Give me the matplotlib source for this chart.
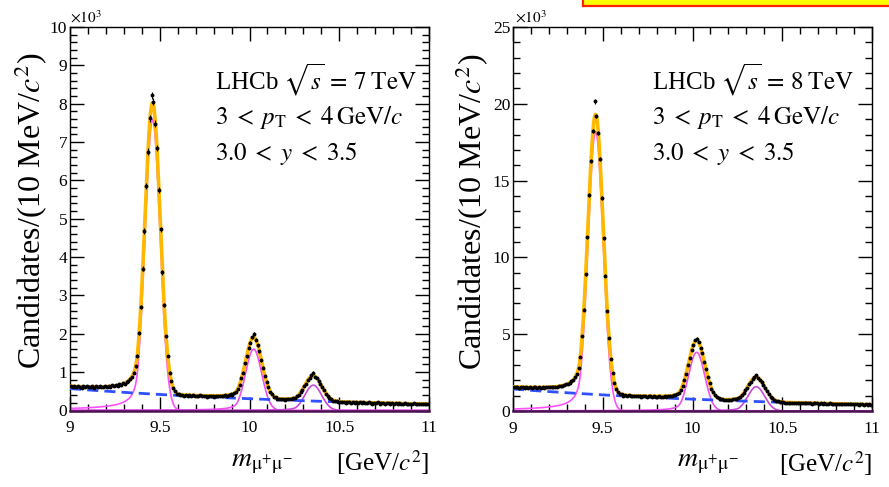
import numpy as np
import matplotlib
matplotlib.use("Agg")
import matplotlib.pyplot as plt
from matplotlib.patches import Rectangle
from matplotlib.ticker import MultipleLocator

plt.rcParams['font.family'] = ['Liberation Serif', 'DejaVu Serif']
plt.rcParams['mathtext.fontset'] = 'stix'

# ---------------- data (units of 10^3 candidates / 10 MeV) ----------------
bin_lo, bin_hi, bin_w = 9.0, 11.0, 0.01
mass_bins = np.arange(bin_lo + bin_w / 2, bin_hi, bin_w)

counts_7tev = [
    0.64, 0.61, 0.63, 0.60, 0.65, 0.62, 0.59, 0.63, 0.61, 0.64,
    0.60, 0.62, 0.64, 0.59, 0.63, 0.61, 0.64, 0.60, 0.62, 0.65,
    0.61, 0.64, 0.62, 0.66, 0.63, 0.67, 0.64, 0.68, 0.66, 0.71,
    0.70, 0.75, 0.77, 0.83, 0.87, 0.99, 1.15, 1.43, 2.02, 2.71,
    3.70, 4.68, 5.85, 6.75, 7.62, 8.22, 8.05, 7.48, 6.85, 5.74,
    4.72, 3.60, 2.74, 1.93, 1.42, 0.99, 0.76, 0.58, 0.51, 0.44,
    0.43, 0.40, 0.41, 0.38, 0.40, 0.39, 0.41, 0.38, 0.40, 0.37,
    0.39, 0.38, 0.40, 0.37, 0.39, 0.38, 0.36, 0.39, 0.37, 0.39,
    0.36, 0.38, 0.37, 0.39, 0.38, 0.37, 0.40, 0.38, 0.40, 0.42,
    0.41, 0.45, 0.47, 0.56, 0.66, 0.84, 0.99, 1.23, 1.41, 1.64,
    1.77, 1.91, 1.99, 1.85, 1.70, 1.55, 1.31, 1.12, 0.90, 0.74,
    0.60, 0.48, 0.42, 0.36, 0.34, 0.31, 0.30, 0.29, 0.31, 0.28,
    0.30, 0.29, 0.31, 0.30, 0.32, 0.33, 0.37, 0.40, 0.48, 0.54,
    0.63, 0.70, 0.80, 0.84, 0.92, 0.99, 0.88, 0.85, 0.77, 0.70,
    0.60, 0.53, 0.44, 0.39, 0.33, 0.30, 0.26, 0.25, 0.24, 0.22,
    0.23, 0.21, 0.22, 0.20, 0.22, 0.21, 0.20, 0.22, 0.19, 0.21,
    0.20, 0.22, 0.19, 0.21, 0.20, 0.19, 0.21, 0.20, 0.18, 0.20,
    0.19, 0.21, 0.18, 0.20, 0.19, 0.18, 0.20, 0.19, 0.17, 0.19,
    0.18, 0.20, 0.17, 0.19, 0.18, 0.17, 0.19, 0.18, 0.16, 0.18,
    0.17, 0.19, 0.16, 0.18, 0.17, 0.16, 0.18, 0.17, 0.16, 0.17,
]

counts_8tev = [
    1.58, 1.53, 1.57, 1.52, 1.56, 1.54, 1.50, 1.55, 1.52, 1.56,
    1.51, 1.54, 1.56, 1.50, 1.55, 1.52, 1.56, 1.51, 1.54, 1.57,
    1.53, 1.57, 1.55, 1.59, 1.56, 1.62, 1.60, 1.66, 1.67, 1.74,
    1.77, 1.83, 1.93, 2.00, 2.19, 2.38, 2.80, 3.50, 4.88, 6.60,
    8.90, 11.30, 14.05, 16.30, 18.25, 20.15, 19.20, 18.10, 16.40, 13.85,
    11.25, 8.80, 6.50, 4.78, 3.38, 2.47, 1.85, 1.43, 1.25, 1.12,
    1.08, 1.00, 1.02, 0.97, 1.01, 0.96, 1.00, 0.98, 0.95, 0.99,
    0.97, 0.94, 0.98, 0.95, 0.93, 0.97, 0.95, 0.92, 0.96, 0.94,
    0.93, 0.96, 0.94, 0.92, 0.96, 0.94, 0.97, 0.98, 0.99, 1.03,
    1.04, 1.11, 1.17, 1.38, 1.63, 2.03, 2.44, 2.97, 3.45, 3.95,
    4.30, 4.60, 4.72, 4.48, 4.12, 3.75, 3.20, 2.72, 2.20, 1.80,
    1.46, 1.22, 1.02, 0.92, 0.82, 0.79, 0.75, 0.72, 0.74, 0.71,
    0.73, 0.71, 0.75, 0.76, 0.78, 0.83, 0.88, 1.02, 1.16, 1.34,
    1.52, 1.73, 1.92, 2.06, 2.20, 2.32, 2.16, 2.05, 1.88, 1.70,
    1.49, 1.27, 1.11, 0.94, 0.83, 0.72, 0.67, 0.63, 0.58, 0.57,
    0.56, 0.54, 0.55, 0.52, 0.54, 0.53, 0.51, 0.54, 0.52, 0.50,
    0.52, 0.50, 0.51, 0.49, 0.52, 0.50, 0.48, 0.51, 0.49, 0.50,
    0.48, 0.50, 0.47, 0.49, 0.48, 0.46, 0.49, 0.47, 0.48, 0.46,
    0.47, 0.45, 0.46, 0.44, 0.47, 0.45, 0.43, 0.46, 0.44, 0.45,
    0.43, 0.45, 0.42, 0.44, 0.43, 0.41, 0.44, 0.42, 0.43, 0.41,
]

# fitted model parameters
peak_mass = [9.460, 10.023, 10.355]          # Y(1S), Y(2S), Y(3S)
peak_sigma = [0.042, 0.045, 0.047]
cb_alpha, cb_n = 2.0, 1.0
peak_height_7tev = [7.58, 1.60, 0.66]
peak_height_8tev = [18.2, 3.82, 1.58]
bkg_norm_7tev, bkg_slope_7tev = 0.57, 0.62
bkg_norm_8tev, bkg_slope_8tev = 1.43, 0.62

panel_energy = ["7", "8"]
ymax_panels = [10, 25]
ymajor_panels = [1, 5]
yminor_panels = [0.2, 1]
ytick_labels_7 = ["0", "1", "2", "3", "4", "5", "6", "7", "8", "9", "10"]
ytick_labels_8 = ["0", "5", "10", "15", "20", "25"]
xtick_vals = [9, 9.5, 10, 10.5, 11]
xtick_labels = ["9", "9.5", "10", "10.5", "11"]


def crystal_ball(x, m, s, a, n):
    t = (x - m) / s
    out = np.exp(-0.5 * t ** 2)
    A = (n / a) ** n * np.exp(-0.5 * a ** 2)
    B = n / a - a
    lo = t < -a
    out[lo] = A / (B - t[lo]) ** n
    return out


fig = plt.figure(figsize=(8.89, 4.87), dpi=100)
W, H = 889.0, 487.0

axes_px = [(70, 27, 429, 410.5), (513, 27, 872, 411)]
counts_all = [counts_7tev, counts_8tev]
heights_all = [peak_height_7tev, peak_height_8tev]
bkg_all = [(bkg_norm_7tev, bkg_slope_7tev), (bkg_norm_8tev, bkg_slope_8tev)]
ytl_all = [ytick_labels_7, ytick_labels_8]
ylabel_x = [-0.055, -0.062]
text_x = [0.404, 0.387]
mlabel_x = [0.535, 0.543]

xf = np.linspace(9, 11, 2001)
for p in range(2):
    x0, y0, x1, y1 = axes_px[p]
    ax = fig.add_axes([x0 / W, 1 - y1 / H, (x1 - x0) / W, (y1 - y0) / H])
    cnt = np.array(counts_all[p])
    bn, bs = bkg_all[p]
    bkg = bn * np.exp(-bs * (xf - 9.0))
    comps = [h * crystal_ball(xf, m, s, cb_alpha, cb_n)
             for h, m, s in zip(heights_all[p], peak_mass, peak_sigma)]
    total = bkg + sum(comps)
    comp_cols = ['#FF50FF', '#F050F0', '#C848D8']
    for c, col in zip(comps, comp_cols):
        ax.plot(xf, c, color=col, lw=1.2, zorder=2)
    ax.plot(xf, bkg, color='#3050FF', lw=2.0, ls=(0, (4.0, 2.2)), zorder=3)
    ax.plot(xf, total, color='#FFB800', lw=2.6, zorder=4)
    err = np.sqrt(cnt * 1000.0) / 1000.0
    ax.errorbar(mass_bins, cnt, yerr=err, fmt='o', ms=1.8, color='black',
                ecolor='black', elinewidth=0.8, capsize=0, zorder=5)

    ax.set_xlim(9, 11)
    ax.set_ylim(0, ymax_panels[p])
    ax.set_xticks(xtick_vals)
    ax.set_xticklabels(xtick_labels)
    ax.set_yticks(np.arange(0, ymax_panels[p] + 0.001, ymajor_panels[p]))
    ax.set_yticklabels(ytl_all[p])
    ax.xaxis.set_minor_locator(MultipleLocator(0.1))
    ax.yaxis.set_minor_locator(MultipleLocator(yminor_panels[p]))
    ax.tick_params(which='both', direction='in', top=True, right=True,
                   labelsize=12.5, width=1.0)
    ax.tick_params(which='major', length=10)
    ax.tick_params(which='minor', length=5)
    ax.tick_params(axis='x', which='major', pad=7)
    ax.tick_params(axis='y', which='major', pad=2)
    for sp in ax.spines.values():
        sp.set_linewidth(1.0)
    ax.spines['bottom'].set_color('#4a1050')
    ax.spines['bottom'].set_linewidth(1.8)

    ax.set_ylabel(r'Candidates/(10 MeV/$c^2$)', fontsize=23)
    ax.yaxis.set_label_coords(ylabel_x[p], 0.52)
    ax.text(mlabel_x[p], -0.137, r'$m_{\mathrm{\mu^{+}\mu^{-}}}$', fontsize=20,
            ha='center', va='center', transform=ax.transAxes)
    ax.text(1.0, -0.137, r'[GeV/$c^2$]', fontsize=18,
            ha='right', va='center', transform=ax.transAxes)
    ax.text(0.0 if p == 0 else 0.005, 1.025, r'$\times10^{3}$', fontsize=11,
            ha='left', va='center', transform=ax.transAxes)

    lines = [r'LHCb $\sqrt{s}\, =\, %s\;\mathrm{TeV}$' % panel_energy[p],
             r'$3 \;<\; p_{\mathrm{T}} \;<\; 4\,\mathrm{GeV}/c$',
             r'$3.0 \;<\; y \;<\; 3.5$']
    for ln, yy in zip(lines, [0.862, 0.765, 0.671]):
        ax.text(text_x[p], yy, ln, fontsize=18, ha='left', va='center',
                transform=ax.transAxes)

# partially visible highlight box at the top right
fig.patches.append(Rectangle((583 / W, 1 - 6 / H), 0.5, 0.2,
                             transform=fig.transFigure, facecolor='#FFFF00',
                             edgecolor='#FF2000', lw=1.6, clip_on=False))

fig.savefig('out.png', dpi=100)
